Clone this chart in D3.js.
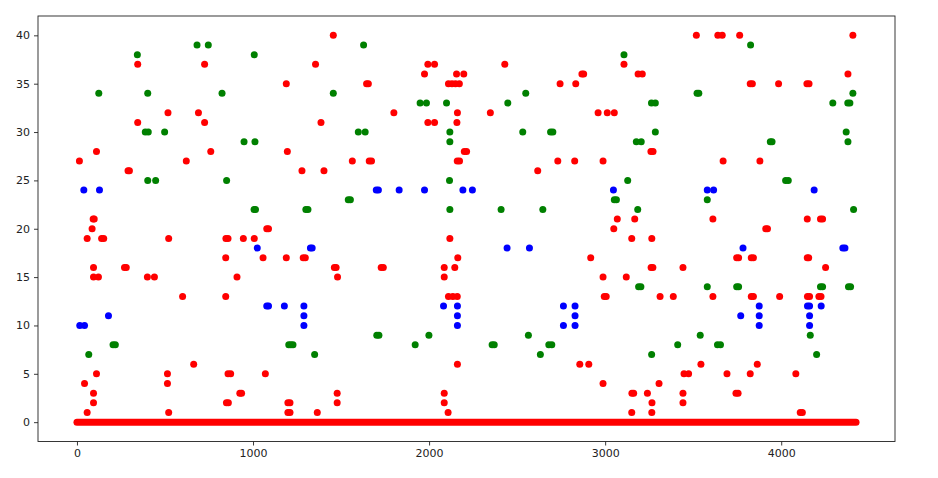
<!DOCTYPE html>
<html><head><meta charset="utf-8">
<script src="https://cdn.jsdelivr.net/npm/d3@7"></script>
<style>body{margin:0;background:#fff}svg{display:block}</style>
</head><body>
<svg id="chart" width="938" height="478"></svg>
<script>
// ---- data (x index, y value) ----
const xTicks = [0, 1000, 2000, 3000, 4000];
const yTicks = [0, 5, 10, 15, 20, 25, 30, 35, 40];
// continuous run of red points at y = 0 (start index, end index)
const redZeroRuns = [[0, 4425]];
const redPoints = [
 [1456,40],[3518,40],[3640,40],[3665,40],[3764,40],[4407,40],
 [345,37],[725,37],[1355,37],[1993,37],[2031,37],[2430,37],[3107,37],
 [1974,36],[2156,36],[2197,36],[2868,36],[2878,36],[3187,36],[3211,36],[4379,36],
 [1189,35],[1645,35],[1655,35],[2110,35],[2130,35],[2150,35],[2172,35],[2744,35],[2833,35],[3824,35],[3836,35],[3985,35],[4146,35],[4158,35],
 [517,32],[690,32],[1800,32],[2161,32],[2348,32],[2960,32],[3012,32],[3052,32],
 [345,31],[725,31],[1386,31],[1993,31],[2031,31],[2158,31],
 [111,28],[760,28],[1195,28],[2200,28],[2213,28],[3260,28],[3272,28],
 [14,27],[621,27],[1564,27],[1660,27],[1673,27],[2160,27],[2173,27],[2731,27],[2827,27],[2988,27],[3670,27],[3879,27],
 [290,26],[298,26],[1278,26],[1403,26],[2617,26],
 [92,21],[98,21],[3069,21],[3168,21],[3612,21],[4148,21],[4223,21],[4235,21],
 [86,20],[1078,20],[1088,20],[3049,20],[3912,20],[3922,20],
 [58,19],[140,19],[152,19],[521,19],[846,19],[858,19],[945,19],[1007,19],[2118,19],[3151,19],[3265,19],
 [845,17],[1057,17],[1189,17],[1285,17],[1297,17],[2163,17],[2918,17],[3747,17],[3758,17],[3830,17],[3842,17],[4148,17],[4156,17],
 [94,16],[270,16],[280,16],[1462,16],[1472,16],[1728,16],[1740,16],[2086,16],[2146,16],[3261,16],[3271,16],[3442,16],[4252,16],
 [94,15],[122,15],[400,15],[440,15],[909,15],[1480,15],[2086,15],[2988,15],[3120,15],
 [600,13],[845,13],[2110,13],[2135,13],[2160,13],[2995,13],[3006,13],[3312,13],[3387,13],[3612,13],[3830,13],[3842,13],[3991,13],[4149,13],[4161,13],[4214,13],[4226,13],
 [663,6],[2161,6],[2856,6],[2907,6],[3544,6],[3864,6],
 [111,5],[514,5],[858,5],[873,5],[1070,5],[3448,5],[3474,5],[3692,5],[3824,5],[4083,5],
 [43,4],[514,4],[2988,4],[3306,4],
 [94,3],[925,3],[935,3],[1478,3],[2086,3],[3152,3],[3162,3],[3240,3],[3442,3],[3743,3],[3755,3],
 [94,2],[849,2],[860,2],[1198,2],[1210,2],[1478,2],[2086,2],[3266,2],[3442,2],
 [58,1],[521,1],[1198,1],[1210,1],[1365,1],[2108,1],[3151,1],[3265,1],[4108,1],[4120,1]
];
const greenPoints = [
 [682,39],[746,39],[1628,39],[3826,39],
 [343,38],[1007,38],[3107,38],
 [124,34],[402,34],[824,34],[1456,34],[2549,34],[3522,34],[3532,34],[4407,34],
 [1949,33],[1985,33],[2099,33],[2447,33],[3263,33],[3285,33],[4293,33],[4378,33],[4390,33],
 [388,30],[405,30],[498,30],[1598,30],[1637,30],[2118,30],[2532,30],[2690,30],[2703,30],[3285,30],[4369,30],
 [949,29],[1011,29],[2118,29],[3177,29],[3205,29],[3938,29],[3948,29],[4379,29],
 [402,25],[447,25],[850,25],[2116,25],[3128,25],[4025,25],[4040,25],
 [1541,23],[1553,23],[3052,23],[3064,23],[3580,23],
 [1006,22],[1014,22],[1300,22],[1312,22],[2118,22],[2409,22],[2646,22],[3185,22],[4411,22],
 [3190,14],[3203,14],[3580,14],[3747,14],[3758,14],[4223,14],[4235,14],[4382,14],[4394,14],
 [1703,9],[1715,9],[1999,9],[2564,9],[3540,9],[4165,9],
 [205,8],[218,8],[1203,8],[1215,8],[1227,8],[1921,8],[2358,8],[2370,8],[2680,8],[2697,8],[3412,8],[3638,8],[3655,8],
 [67,7],[1350,7],[2632,7],[3264,7],[4201,7]
];
const bluePoints = [
 [39,24],[128,24],[1700,24],[1712,24],[1830,24],[1974,24],[2192,24],[2246,24],[3047,24],[3580,24],[3616,24],[4187,24],
 [1024,18],[1326,18],[1336,18],[2443,18],[2570,18],[3783,18],[4350,18],[4362,18],
 [1078,12],[1088,12],[1178,12],[1289,12],[2082,12],[2161,12],[2763,12],[2829,12],[3875,12],[4149,12],[4161,12],[4227,12],
 [179,11],[1289,11],[2161,11],[2829,11],[3770,11],[3875,11],[4161,11],
 [16,10],[43,10],[1289,10],[2161,10],[2763,10],[2829,10],[3875,10],[4161,10]
];

// ---- layout ----
const L = 38, R = 895, T = 16, B = 441.5;
const xMin = 0, xMax = 4425, yMin = 0, yMax = 40;
const xPad = (xMax - xMin) * 0.05, yPad = (yMax - yMin) * 0.05;
const x = d3.scaleLinear().domain([xMin - xPad, xMax + xPad]).range([L, R]);
const y = d3.scaleLinear().domain([yMin - yPad, yMax + yPad]).range([B, T]);
const r = 3.5;
const svg = d3.select('#chart');
const font = 'DejaVu Sans, sans-serif';

const plot = svg.append('g');
// zero run
plot.selectAll('line.zero').data(redZeroRuns).join('line')
  .attr('x1', d => x(d[0])).attr('x2', d => x(d[1]))
  .attr('y1', y(0)).attr('y2', y(0))
  .attr('stroke', '#ff0000').attr('stroke-width', 2 * r).attr('stroke-linecap', 'round');
function dots(data, color) {
  plot.append('g').selectAll('circle').data(data).join('circle')
    .attr('cx', d => x(d[0])).attr('cy', d => y(d[1])).attr('r', r).attr('fill', color);
}
dots(redPoints, '#ff0000');
dots(greenPoints, '#008000');
dots(bluePoints, '#0000ff');

// axes
const xAxis = d3.axisBottom(x).tickValues(xTicks).tickSize(4).tickPadding(4).tickFormat(d3.format('d'));
const yAxis = d3.axisLeft(y).tickValues(yTicks).tickSize(4).tickPadding(4).tickFormat(d3.format('d'));
const gx = svg.append('g').attr('transform', `translate(0,${B})`).call(xAxis);
const gy = svg.append('g').attr('transform', `translate(${L},0)`).call(yAxis);
[gx, gy].forEach(g => {
  g.select('.domain').remove();
  g.selectAll('line').attr('stroke', '#222').attr('stroke-width', 0.9);
  g.selectAll('text').attr('font-family', font).attr('font-size', 11).attr('fill', '#222');
});
// frame
svg.append('rect').attr('x', L).attr('y', T).attr('width', R - L).attr('height', B - T)
  .attr('fill', 'none').attr('stroke', '#222').attr('stroke-width', 0.9);
</script>
</body></html>
